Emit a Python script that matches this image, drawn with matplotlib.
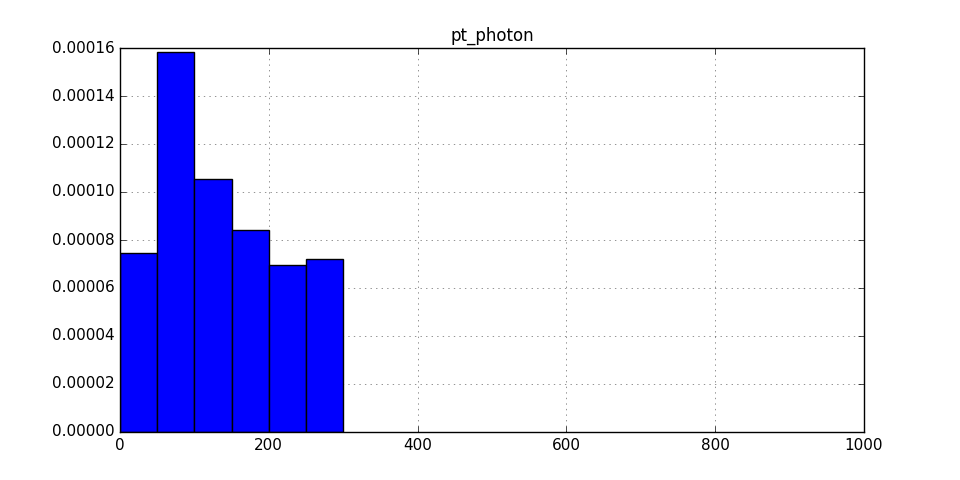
import matplotlib
matplotlib.use("Agg")
import matplotlib.pyplot as plt
from matplotlib.ticker import FormatStrFormatter

plt.style.use('classic')

bin_edges = [0, 50, 100, 150, 200, 250, 300]
densities = [0.0000746, 0.0001582, 0.0001055, 0.0000842, 0.0000696, 0.0000719]
title = "pt_photon"

fig = plt.figure(figsize=(9.6, 4.8), dpi=100, facecolor='white')
ax = fig.add_axes([0.125, 0.1, 0.775, 0.8])
lefts = bin_edges[:-1]
widths = [b - a for a, b in zip(bin_edges[:-1], bin_edges[1:])]
ax.bar(lefts, densities, width=widths, align='edge', color='blue', edgecolor='black', linewidth=1)
ax.set_xlim(0, 1000)
ax.set_ylim(0, 0.00016)
ax.set_yticks([i * 0.00002 for i in range(9)])
ax.yaxis.set_major_formatter(FormatStrFormatter('%.5f'))
ax.set_xticks([0, 200, 400, 600, 800, 1000])
ax.grid(True, linestyle=':', color='black', alpha=0.6)
ax.set_axisbelow(True)
ax.set_title(title, fontsize=12)
ax.tick_params(labelsize=11)
fig.savefig("out.png", dpi=100, facecolor='white')
